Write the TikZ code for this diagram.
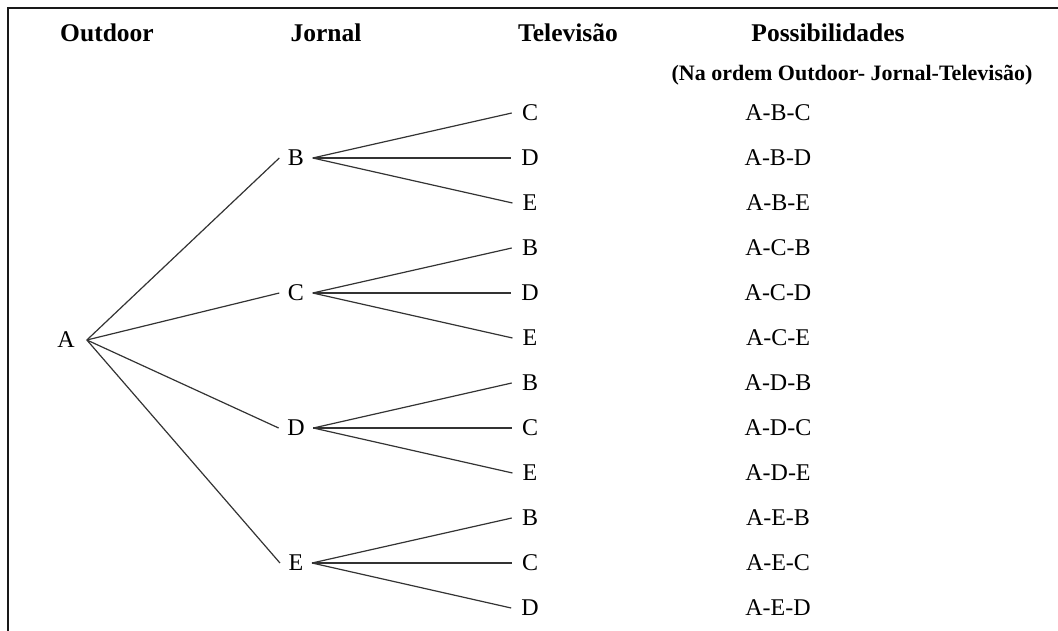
\documentclass[tikz,border=0pt]{standalone}
\usepackage{fontspec}
\setmainfont{Liberation Serif}
\begin{document}
\begin{tikzpicture}[x=1pt,y=-1pt,
  head/.style={font=\fontsize{25.5}{25.5}\selectfont\bfseries, inner sep=0pt, text depth=0pt},
  subhead/.style={font=\fontsize{22}{22}\selectfont\bfseries, inner sep=0pt},
  lab/.style={font=\fontsize{24}{24}\selectfont, inner xsep=8.5pt, inner ysep=0pt, text depth=0pt},
  poss/.style={font=\fontsize{24}{24}\selectfont, inner sep=0pt, text depth=0pt},
  edge/.style={draw=black!80, line width=1.2pt},
  frame/.style={draw=black!90, line width=2pt}]
\useasboundingbox (0,0) rectangle (1058,631);
\coordinate (f1) at (1058,8);
\coordinate (f2) at (8,8);
\coordinate (f3) at (8,631);
\draw[frame] (f1) -- (f2) -- (f3);

\node[head] (h1) at (107,33) {Outdoor};
\node[head] (h2) at (326,33) {Jornal};
\node[head] (h3) at (568,33) {Televisão};
\node[head] (h4) at (828,33) {Possibilidades};
\node[subhead] (h5) at (852,75) {(Na ordem Outdoor- Jornal-Televisão)};

\node[lab, inner xsep=12pt] (A) at (66,340) {A};
\node[lab] (B) at (296,158) {B};
\node[lab] (C) at (296,293) {C};
\node[lab] (D) at (296,428) {D};
\node[lab] (E) at (296,563) {E};

\foreach \n/\t [count=\i from 0] in {bc/C,bd/D,be/E,cb/B,cd/D,ce/E,db/B,dc/C,de/E,eb/B,ec/C,ed/D}{
  \node[lab, inner xsep=10pt] (t\n) at (530,113+45*\i) {\t};
}
\foreach \s [count=\i from 0] in {A-B-C,A-B-D,A-B-E,A-C-B,A-C-D,A-C-E,A-D-B,A-D-C,A-D-E,A-E-B,A-E-C,A-E-D}{
  \node[poss] (p\i) at (778,113+45*\i) {\s};
}

\foreach \m in {B,C,D,E}{\draw[edge] (A.east) -- (\m.west);}
\foreach \x in {bc,bd,be}{\draw[edge] (B.east) -- (t\x.west);}
\foreach \x in {cb,cd,ce}{\draw[edge] (C.east) -- (t\x.west);}
\foreach \x in {db,dc,de}{\draw[edge] (D.east) -- (t\x.west);}
\foreach \x in {eb,ec,ed}{\draw[edge] (E.east) -- (t\x.west);}
\end{tikzpicture}
\end{document}
